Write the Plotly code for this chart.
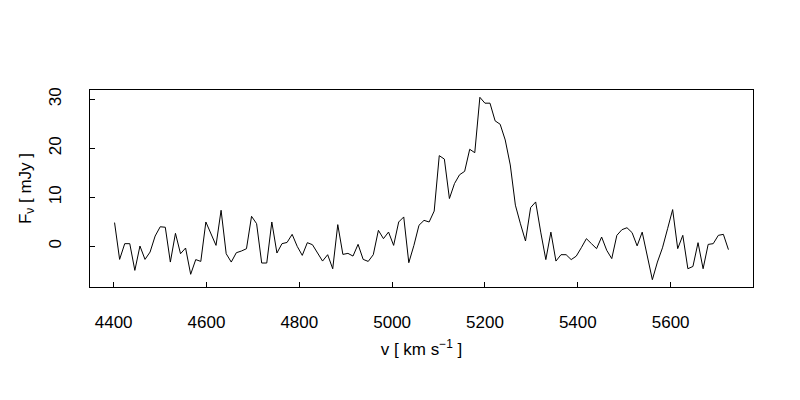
import plotly.graph_objects as go

velocity = [
    4402.0, 4412.9, 4423.9, 4434.8, 4445.7, 4456.7, 4467.6, 4478.5, 4489.4, 4500.4,
    4511.3, 4522.2, 4533.2, 4544.1, 4555.0, 4566.0, 4576.9, 4587.8, 4598.7, 4609.7,
    4620.6, 4631.5, 4642.5, 4653.4, 4664.3, 4675.3, 4686.2, 4697.1, 4708.0, 4719.0,
    4729.9, 4740.8, 4751.8, 4762.7, 4773.6, 4784.6, 4795.5, 4806.4, 4817.3, 4828.3,
    4839.2, 4850.1, 4861.1, 4872.0, 4882.9, 4893.9, 4904.8, 4915.7, 4926.6, 4937.6,
    4948.5, 4959.4, 4970.4, 4981.3, 4992.2, 5003.2, 5014.1, 5025.0, 5035.9, 5046.9,
    5057.8, 5068.7, 5079.7, 5090.6, 5101.5, 5112.5, 5123.4, 5134.3, 5145.2, 5156.2,
    5167.1, 5178.0, 5189.0, 5199.9, 5210.8, 5221.8, 5232.7, 5243.6, 5254.5, 5265.5,
    5276.4, 5287.3, 5298.3, 5309.2, 5320.1, 5331.1, 5342.0, 5352.9, 5363.8, 5374.8,
    5385.7, 5396.6, 5407.6, 5418.5, 5429.4, 5440.4, 5451.3, 5462.2, 5473.1, 5484.1,
    5495.0, 5505.9, 5516.9, 5527.8, 5538.7, 5549.7, 5560.6, 5571.5, 5582.4, 5593.4,
    5604.3, 5615.2, 5626.2, 5637.1, 5648.0, 5659.0, 5669.9, 5680.8, 5691.7, 5702.7,
    5713.6, 5724.5,
]

flux = [
    4.85, -2.66, 0.55, 0.55, -4.9, 0.07, -2.66, -1.16, 2.1, 4.0,
    3.9, -3.2, 2.66, -1.5, -0.34, -5.7, -2.7, -3.07, 4.97, 2.6,
    0.2, 7.36, -1.5, -3.2, -1.3, -0.95, -0.48, 6.13, 4.63, -3.4,
    -3.4, 4.97, -1.36, 0.55, 0.8, 2.45, 0.0, -1.84, 0.75, 0.34,
    -1.3, -3.0, -1.7, -4.57, 4.43, -1.64, -1.43, -1.98, 0.41, -2.66,
    -3.07, -1.7, 3.27, 1.57, 2.92, 0.2, 4.97, 6.0, -3.33, 0.2,
    4.3, 5.3, 4.97, 7.2, 18.5, 17.8, 9.75, 12.8, 14.6, 15.3,
    19.8, 19.1, 30.4, 29.2, 29.2, 25.6, 24.9, 21.7, 16.6, 8.4,
    4.6, 1.1, 7.9, 9.06, 2.9, -2.7, 2.9, -3.0, -1.7, -1.7,
    -2.7, -2.0, -0.27, 1.57, 0.55, -0.47, 1.9, -0.8, -2.5, 2.25,
    3.4, 3.8, 2.8, 0.1, 2.9, -2.1, -6.8, -3.2, -0.3, 3.6,
    7.5, -0.47, 2.25, -4.56, -4.1, 0.75, -4.56, 0.4, 0.55, 2.25,
    2.45, -0.67,
]

x_ticks = [4400, 4600, 4800, 5000, 5200, 5400, 5600]
y_ticks = [0, 10, 20, 30]

def padded(vals, frac=0.04):
    lo, hi = min(vals), max(vals)
    d = (hi - lo) * frac
    return [lo - d, hi + d]

font = dict(family="Liberation Sans, Arial, sans-serif", size=17, color="black")

fig = go.Figure()
fig.add_trace(go.Scatter(
    x=velocity, y=flux, mode="lines",
    line=dict(color="black", width=1),
    showlegend=False, hoverinfo="skip",
))

fig.update_layout(
    width=800, height=400,
    margin=dict(l=82, r=55, t=82, b=121),
    paper_bgcolor="white", plot_bgcolor="white",
    font=font,
)
fig.update_xaxes(
    range=padded(velocity), tickvals=x_ticks, ticktext=[str(t) for t in x_ticks],
    showgrid=False, zeroline=False,
    showline=True, mirror=True, linecolor="black", linewidth=1,
    ticks="inside", ticklen=5, tickcolor="black", tickwidth=1,
    ticklabelstandoff=20,
    title=dict(text="v [ km s<sup>\u22121</sup> ]", standoff=11, font=font),
    tickfont=font,
)
fig.update_yaxes(
    range=padded(flux), tickvals=y_ticks, ticktext=[str(t) for t in y_ticks],
    showgrid=False, zeroline=False,
    showline=True, mirror=True, linecolor="black", linewidth=1,
    ticks="inside", ticklen=5, tickcolor="black", tickwidth=1,
    tickangle=-90, ticklabelstandoff=21,
    title=dict(text="F<sub>\u03bd</sub> [ mJy ]", standoff=10, font=font),
    tickfont=font,
)

fig.write_html("out.html")
